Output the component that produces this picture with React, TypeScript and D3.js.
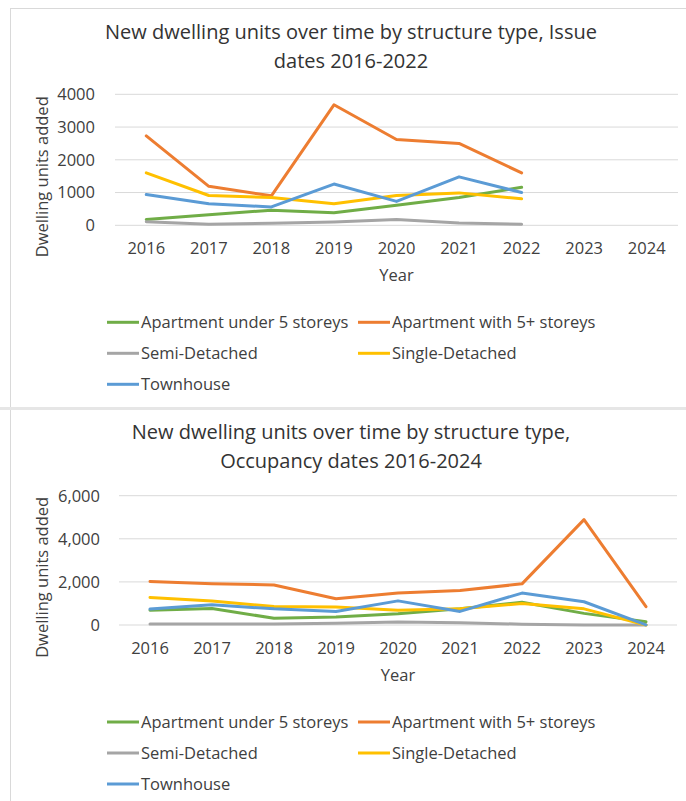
import * as d3 from 'd3'
import React, { useEffect, useRef } from "react";

const years = ['2016', '2017', '2018', '2019', '2020', '2021', '2022', '2023', '2024'];
const seriesNames = ['Apartment under 5 storeys', 'Apartment with 5+ storeys', 'Semi-Detached', 'Single-Detached', 'Townhouse'];
const seriesColors = ['#70AD47', '#ED7D31', '#A5A5A5', '#FFC000', '#5B9BD5'];

// issue dates, 2016-2022
const issueAptUnder5 = [180, 320, 460, 380, 610, 850, 1160];
const issueApt5Plus = [2730, 1190, 900, 3680, 2620, 2500, 1600];
const issueSemi = [110, 30, 60, 100, 180, 70, 30];
const issueSingle = [1600, 910, 850, 660, 910, 990, 810];
const issueTown = [940, 660, 560, 1260, 730, 1480, 1000];
const issueTicks = [0, 1000, 2000, 3000, 4000];

// occupancy dates, 2016-2024
const occAptUnder5 = [690, 770, 310, 370, 520, 750, 1060, 540, 150];
const occApt5Plus = [2020, 1910, 1860, 1220, 1490, 1600, 1910, 4890, 850];
const occSemi = [50, 50, 50, 80, 140, 100, 40, 0, 0];
const occSingle = [1280, 1110, 860, 830, 690, 750, 1000, 750, 0];
const occTown = [740, 940, 750, 630, 1120, 630, 1480, 1080, 10];
const occTicks = [0, 2000, 4000, 6000];

const FONT = '"Open Sans", "Liberation Sans", sans-serif';
const TEXT = '#404040';
const FS = 16.5;

interface PanelOpts {
    top: number
    titleLines: string[]
    series: number[][]
    ticks: number[]
    tickFmt: (v: number) => string
    left: number
    right: number
    y0: number
    y1: number
    tickX: number
}

function drawPanel(svg: d3.Selection<SVGSVGElement, unknown, null, undefined>, o: PanelOpts) {
    const g = svg.append('g');
    const x = d3.scaleBand().domain(years).range([o.left, o.right]);
    const y = d3.scaleLinear().domain([0, o.ticks[o.ticks.length - 1]]).range([o.y0, o.y1]);
    const cx = (i: number) => (x(years[i]) as number) + x.bandwidth() / 2;

    g.selectAll('text.title')
        .data(o.titleLines)
        .join('text')
        .attr('class', 'title')
        .attr('x', 351)
        .attr('y', (d, i) => o.top + 31 + i * 28.5)
        .attr('text-anchor', 'middle')
        .attr('font-family', FONT)
        .attr('font-size', 20)
        .attr('fill', '#333')
        .text(d => d);

    g.selectAll('line.grid')
        .data(o.ticks)
        .join('line')
        .attr('class', 'grid')
        .attr('x1', o.left).attr('x2', o.right)
        .attr('y1', d => y(d)).attr('y2', d => y(d))
        .attr('stroke', '#D9D9D9')
        .attr('stroke-width', 1);

    g.selectAll('text.ytick')
        .data(o.ticks)
        .join('text')
        .attr('class', 'ytick')
        .attr('x', o.tickX)
        .attr('y', d => y(d))
        .attr('dy', '0.36em')
        .attr('text-anchor', 'end')
        .attr('font-family', FONT)
        .attr('font-size', FS)
        .attr('fill', TEXT)
        .text(d => o.tickFmt(d));

    g.selectAll('text.xtick')
        .data(years)
        .join('text')
        .attr('class', 'xtick')
        .attr('x', d => (x(d) as number) + x.bandwidth() / 2)
        .attr('y', o.y0 + 29)
        .attr('text-anchor', 'middle')
        .attr('font-family', FONT)
        .attr('font-size', FS)
        .attr('fill', TEXT)
        .text(d => d);

    g.append('text')
        .attr('x', (o.left + o.right) / 2)
        .attr('y', o.y0 + 56)
        .attr('text-anchor', 'middle')
        .attr('font-family', FONT)
        .attr('font-size', FS)
        .attr('fill', TEXT)
        .text('Year');

    const midY = (o.y0 + o.y1) / 2 + 17;
    g.append('text')
        .attr('transform', `translate(48, ${midY}) rotate(-90)`)
        .attr('text-anchor', 'middle')
        .attr('font-family', FONT)
        .attr('font-size', FS)
        .attr('fill', TEXT)
        .text('Dwelling units added');

    const line = d3.line<number>()
        .x((d, i) => cx(i))
        .y(d => y(d));

    g.selectAll('path.series')
        .data(o.series)
        .join('path')
        .attr('class', 'series')
        .attr('d', d => line(d))
        .attr('fill', 'none')
        .attr('stroke', (d, i) => seriesColors[i])
        .attr('stroke-width', 3)
        .attr('stroke-linejoin', 'round')
        .attr('stroke-linecap', 'round');

    // legend, two columns
    const legY0 = o.y0 + 97;
    const leg = g.selectAll('g.leg')
        .data(seriesNames)
        .join('g')
        .attr('class', 'leg')
        .attr('transform', (d, i) => `translate(${i % 2 === 0 ? 107 : 358}, ${legY0 + Math.floor(i / 2) * 31})`);
    leg.append('line')
        .attr('x1', 0).attr('x2', 32)
        .attr('stroke', (d, i) => seriesColors[i])
        .attr('stroke-width', 3);
    leg.append('text')
        .attr('x', 34)
        .attr('dy', '0.36em')
        .attr('font-family', FONT)
        .attr('font-size', FS)
        .attr('fill', TEXT)
        .text(d => d);
}

const App: React.FC = () => {
    const ref = useRef<SVGSVGElement>(null);

    useEffect(() => {
        if (!ref.current) return;
        const svg = d3.select(ref.current);
        svg.selectAll('*').remove();

        // panel frames
        svg.append('rect').attr('x', 10.5).attr('y', 8.5).attr('width', 700).attr('height', 399)
            .attr('fill', 'white').attr('stroke', '#D9D9D9');
        svg.append('rect').attr('x', 10.5).attr('y', 409.5).attr('width', 700).attr('height', 420)
            .attr('fill', 'white').attr('stroke', '#D9D9D9');
        svg.append('rect').attr('x', 0).attr('y', 407).attr('width', 686).attr('height', 3).attr('fill', '#E6E6E6');

        drawPanel(svg, {
            top: 8,
            titleLines: ['New dwelling units over time by structure type, Issue', 'dates 2016-2022'],
            series: [issueAptUnder5, issueApt5Plus, issueSemi, issueSingle, issueTown],
            ticks: issueTicks,
            tickFmt: d3.format('d'),
            left: 115, right: 678,
            y0: 225.3, y1: 94.3,
            tickX: 95,
        });
        drawPanel(svg, {
            top: 408,
            titleLines: ['New dwelling units over time by structure type,', 'Occupancy dates 2016-2024'],
            series: [occAptUnder5, occApt5Plus, occSemi, occSingle, occTown],
            ticks: occTicks,
            tickFmt: d3.format(','),
            left: 119, right: 677,
            y0: 625, y1: 495.7,
            tickX: 100,
        });
    }, []);

    return (
        <svg ref={ref} width={686} height={801}
            style={{ position: 'absolute', left: 0, top: 0, background: 'white' }} />
    );
}

export default App;
